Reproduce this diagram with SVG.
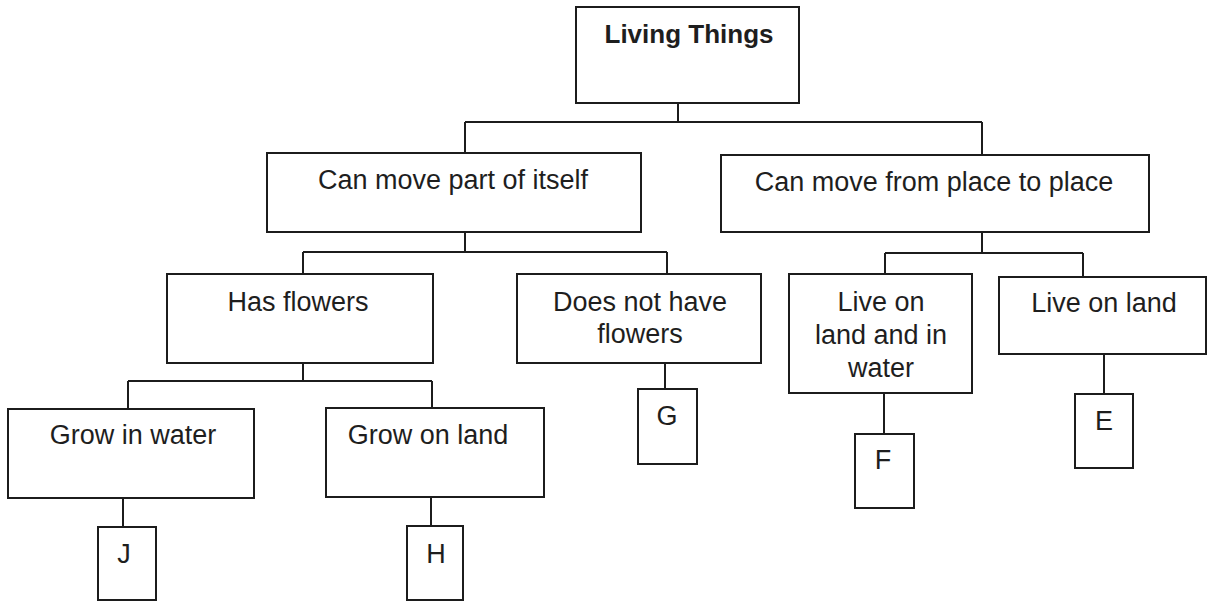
<svg xmlns="http://www.w3.org/2000/svg" width="1208" height="603" viewBox="0 0 1208 603">
<style>
.box{fill:#ffffff;stroke:#1c1c1c;stroke-width:2}
.ln{stroke:#1c1c1c;stroke-width:2;fill:none}
text{font-family:"Liberation Sans",Arial,sans-serif;font-size:27px;fill:#1e1e1e;text-anchor:middle}
.b{font-weight:bold;font-size:26px}
</style>
<rect width="1208" height="603" fill="#ffffff"/>
<g id="connectors">
<path class="ln" d="M678,103V122M465,122H982M465,122V153M982,122V155"/>
<path class="ln" d="M465,232V252M303,252H667M303,252V274M667,252V274"/>
<path class="ln" d="M982,232V253M885,253H1083M885,253V274M1083,253V277"/>
<path class="ln" d="M303,363V381M128,381H432M128,381V409M432,381V408"/>
<path class="ln" d="M123,498V527M431,497V526M665,363V389M884,393V434M1104,354V394"/>
</g>
<g id="living-things"><rect class="box" x="576" y="7" width="223" height="96"/><text class="b" x="689" y="43">Living Things</text></g>
<g id="move-part"><rect class="box" x="267" y="153" width="374" height="79"/><text x="453" y="189">Can move part of itself</text></g>
<g id="move-place"><rect class="box" x="721" y="155" width="428" height="77"/><text x="934" y="191">Can move from place to place</text></g>
<g id="has-flowers"><rect class="box" x="167" y="274" width="266" height="89"/><text x="298" y="311">Has flowers</text></g>
<g id="no-flowers"><rect class="box" x="517" y="274" width="244" height="89"/><text x="640" y="311">Does not have</text><text x="640" y="343">flowers</text></g>
<g id="land-water"><rect class="box" x="789" y="274" width="183" height="119"/><text x="881" y="311">Live on</text><text x="881" y="344">land and in</text><text x="881" y="377">water</text></g>
<g id="live-land"><rect class="box" x="999" y="277" width="207" height="77"/><text x="1104" y="312">Live on land</text></g>
<g id="grow-water"><rect class="box" x="8" y="409" width="246" height="89"/><text x="133" y="444">Grow in water</text></g>
<g id="grow-land"><rect class="box" x="326" y="408" width="218" height="89"/><text x="428" y="444">Grow on land</text></g>
<g id="J"><rect class="box" x="98" y="527" width="58" height="73"/><text x="124" y="563">J</text></g>
<g id="H"><rect class="box" x="407" y="526" width="56" height="74"/><text x="436" y="563">H</text></g>
<g id="G"><rect class="box" x="638" y="389" width="59" height="75"/><text x="667" y="425">G</text></g>
<g id="F"><rect class="box" x="855" y="434" width="59" height="74"/><text x="883" y="469">F</text></g>
<g id="E"><rect class="box" x="1075" y="394" width="58" height="74"/><text x="1104" y="430">E</text></g>
</svg>
